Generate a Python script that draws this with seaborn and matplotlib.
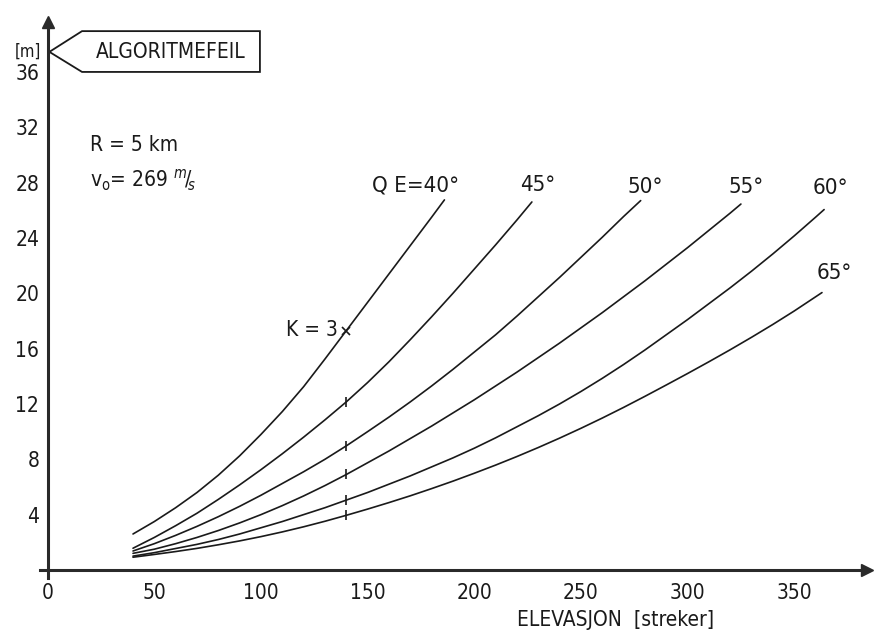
import matplotlib
matplotlib.use("Agg")
import matplotlib.pyplot as plt
from matplotlib.patches import Polygon
import pandas as pd
import seaborn as sns

# Algorithm error [m] versus elevation [streker], one curve per quadrant elevation QE
qe_values = [40, 45, 50, 55, 60, 65]

elev_40 = [40, 50, 60, 70, 80, 90, 100, 110, 120, 130, 140, 150, 160, 170, 180, 186]
err_40 = [2.6, 3.5, 4.5, 5.6, 6.85, 8.25, 9.8, 11.45, 13.25, 15.25, 17.3, 19.35, 21.4,
          23.45, 25.5, 26.75]

elev_45 = [40, 50, 60, 70, 80, 90, 100, 110, 120, 130, 140, 150, 160, 170, 180, 190,
           200, 210, 220, 227]
err_45 = [1.57, 2.35, 3.2, 4.1, 5.1, 6.15, 7.25, 8.4, 9.6, 10.85, 12.15, 13.55, 15.05,
          16.65, 18.3, 20.0, 21.75, 23.5, 25.3, 26.6]

elev_50 = [40, 50, 60, 70, 80, 90, 100, 110, 120, 130, 140, 150, 160, 170, 180, 190,
           200, 210, 220, 230, 240, 250, 260, 270, 278]
err_50 = [1.37, 1.9, 2.5, 3.15, 3.85, 4.6, 5.4, 6.25, 7.1, 8.0, 8.97, 10.0, 11.05, 12.15,
          13.3, 14.5, 15.75, 17.0, 18.35, 19.75, 21.15, 22.6, 24.05, 25.55, 26.7]

elev_55 = [40, 50, 60, 70, 80, 90, 100, 110, 120, 130, 140, 150, 160, 170, 180, 190,
           200, 210, 220, 230, 240, 250, 260, 270, 280, 290, 300, 310, 320, 325]
err_55 = [1.2, 1.5, 1.9, 2.35, 2.85, 3.4, 4.0, 4.65, 5.35, 6.1, 6.9, 7.75, 8.6, 9.5,
          10.4, 11.35, 12.3, 13.3, 14.3, 15.35, 16.4, 17.5, 18.6, 19.75, 20.9, 22.1,
          23.3, 24.55, 25.8, 26.45]

elev_60 = [40, 50, 60, 70, 80, 90, 100, 110, 120, 130, 140, 150, 160, 170, 180, 190,
           200, 210, 220, 230, 240, 250, 260, 270, 280, 290, 300, 310, 320, 330, 340,
           350, 360, 364]
err_60 = [1.0, 1.25, 1.55, 1.85, 2.2, 2.6, 3.05, 3.5, 4.0, 4.5, 5.05, 5.6, 6.2, 6.8,
          7.45, 8.1, 8.8, 9.55, 10.35, 11.15, 12.0, 12.9, 13.85, 14.85, 15.9, 17.0,
          18.1, 19.25, 20.4, 21.6, 22.85, 24.15, 25.5, 26.05]

elev_65 = [40, 50, 60, 70, 80, 90, 100, 110, 120, 130, 140, 150, 160, 170, 180, 190,
           200, 210, 220, 230, 240, 250, 260, 270, 280, 290, 300, 310, 320, 330, 340,
           350, 363]
err_65 = [0.92, 1.12, 1.33, 1.56, 1.82, 2.1, 2.41, 2.75, 3.12, 3.52, 3.95, 4.4, 4.87,
          5.36, 5.88, 6.42, 6.99, 7.58, 8.2, 8.85, 9.53, 10.24, 10.98, 11.75, 12.55,
          13.37, 14.2, 15.05, 15.92, 16.82, 17.75, 18.72, 20.05]

k3_elev = 140  # elevation where K = 3 is marked on each curve

x_ticks = [0, 50, 100, 150, 200, 250, 300, 350]
x_minor = [25, 75, 125, 175, 225, 275, 325, 375]
y_ticks = [4, 8, 12, 16, 20, 24, 28, 32, 36]

curves = {40: (elev_40, err_40), 45: (elev_45, err_45), 50: (elev_50, err_50),
          55: (elev_55, err_55), 60: (elev_60, err_60), 65: (elev_65, err_65)}

frames = []
for qe in qe_values:
    xs, ys = curves[qe]
    frames.append(pd.DataFrame({"elevasjon": xs, "feil": ys, "QE": qe}))
df = pd.concat(frames, ignore_index=True)

sns.set_style("white")
plt.rcParams["font.family"] = ["DejaVu Sans"]
plt.rcParams["font.stretch"] = "condensed"
plt.rcParams["mathtext.fontset"] = "dejavusans"

ink = "#1a1a1a"

fig = plt.figure(figsize=(8.77, 6.34), dpi=100)
ax = fig.add_axes([0, 0, 1, 1])
ax.set_xlim(-22.36, 388.8)
ax.set_ylim(-4.63, 41.2)

sns.lineplot(data=df, x="elevasjon", y="feil", hue="QE", units="QE", estimator=None,
             palette=[ink] * len(qe_values), linewidth=1.2, legend=False,
             sort=False, ax=ax)

# K = 3 crossing marks
for qe in qe_values:
    xs, ys = curves[qe]
    y_k = ys[xs.index(k3_elev)]
    ax.plot([k3_elev], [y_k], marker="x" if qe == 40 else "|", color=ink,
            markersize=6 if qe == 40 else 7, mew=1.2)

# axes drawn as arrows through the origin
for side in ["top", "right"]:
    ax.spines[side].set_visible(False)
ax.spines["left"].set_position(("data", 0))
ax.spines["bottom"].set_position(("data", 0))
ax.spines["left"].set_bounds(-0.6, 39.6)
ax.spines["bottom"].set_bounds(-3.5, 384)
for side in ["left", "bottom"]:
    ax.spines[side].set_linewidth(2.2)
    ax.spines[side].set_color("#2a2a2a")
ax.plot([384], [0], marker=">", color="#2a2a2a", markersize=8, clip_on=False)
ax.plot([0], [39.6], marker="^", color="#2a2a2a", markersize=8, clip_on=False)

ax.set_xticks(x_ticks)
ax.set_xticks(x_minor, minor=True)
ax.set_yticks(y_ticks)
ax.tick_params(axis="x", which="both", direction="inout", length=7, width=1.0,
               colors="#2a2a2a", labelsize=15, pad=6)
ax.tick_params(axis="y", direction="inout", length=6, width=1.0,
               colors="#2a2a2a", labelsize=15, pad=3)
for lbl in ax.get_xticklabels() + ax.get_yticklabels():
    lbl.set_color(ink)
ax.set_xlabel("")
ax.set_ylabel("")

ax.text(220, -3.6, "ELEVASJON  [streker]", ha="left", va="center",
        fontsize=15, color=ink)
ax.text(-9.2, 37.45, "[m]", ha="center", va="center", fontsize=12, color=ink)

# curve labels
ax.text(172.6, 27.8, "Q E=40°", ha="center", va="center", fontsize=16, color=ink)
ax.text(229.9, 27.8, "45°", ha="center", va="center", fontsize=16, color=ink)
ax.text(280.0, 27.7, "50°", ha="center", va="center", fontsize=16, color=ink)
ax.text(327.4, 27.7, "55°", ha="center", va="center", fontsize=16, color=ink)
ax.text(367.2, 27.6, "60°", ha="center", va="center", fontsize=16, color=ink)
ax.text(368.6, 21.5, "65°", ha="center", va="center", fontsize=16, color=ink)
ax.text(136.0, 17.35, "K = 3", ha="right", va="center", fontsize=15, color=ink)

# firing data
ax.text(19.8, 30.7, "R = 5 km", ha="left", va="center", fontsize=15, color=ink)
ax.text(19.8, 28.2, r"v$_\mathrm{o}$= 269 $^{m}\!/\!_{s}$", ha="left", va="center",
        fontsize=15, color=ink)

# title flag
flag = Polygon([(0.8, 37.45), (16.1, 38.95), (99.5, 38.95), (99.5, 36.0), (16.1, 36.0)],
               closed=True, fill=False, edgecolor=ink, linewidth=1.3)
ax.add_patch(flag)
ax.text(57.6, 37.45, "ALGORITMEFEIL", ha="center", va="center", fontsize=15, color=ink)

fig.savefig("out.png", dpi=100, facecolor="white")
